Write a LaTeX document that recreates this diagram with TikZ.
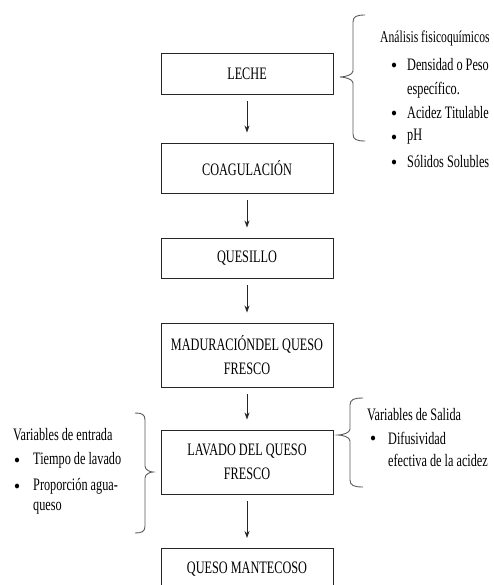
\documentclass[tikz,border=0pt]{standalone}
\usepackage{fontspec}
\setmainfont{Liberation Serif}[FakeStretch=0.70]
\usetikzlibrary{arrows.meta,shapes.geometric}
% #1 end x, #2 vertical x, #3 tip x, #4 top y, #5 tip y, #6 bottom y
\newcommand\drawbrace[6]{%
  \draw[brc] (#1,#4) .. controls ({#2+0.3*(#1-#2)},#4) and (#2,{#4+1.5}) .. (#2,{#4+7})
    -- (#2,{#5-6}) .. controls (#2,{#5-2}) and ({#3+0.35*(#2-#3)},#5) .. (#3,#5)
    .. controls ({#3+0.35*(#2-#3)},#5) and (#2,{#5+2}) .. (#2,{#5+6})
    -- (#2,{#6-7}) .. controls (#2,{#6-1.5}) and ({#2+0.3*(#1-#2)},#6) .. (#1,#6);}
\begin{document}
\begin{tikzpicture}[x=1pt,y=-1pt,
  stepbox/.style={draw=black!85,line width=0.9pt,minimum width=172pt,align=center,inner sep=0pt,
    font=\fontsize{17.5}{24}\selectfont},
  flow/.style={draw=black!85,line width=0.8pt,-{Stealth[length=7pt,width=5pt]},shorten <=7pt,shorten >=10pt},
  sidetext/.style={anchor=west,inner sep=0pt,font=\fontsize{17.5}{24}\selectfont},
  bul/.style={ellipse,fill=black,inner sep=0pt,minimum width=4.2pt,minimum height=4.8pt},
  brc/.style={draw=black!65,line width=0.9pt}]
\useasboundingbox (0,0) rectangle (493,585);

% process boxes
\node[stepbox,minimum height=41pt] (leche) at (247,73.5) {LECHE};
\node[stepbox,minimum height=50pt] (coag) at (247,168) {COAGULACIÓN};
\node[stepbox,minimum height=40pt] (ques) at (247,258) {QUESILLO};
\node[stepbox,minimum height=64pt] (mad) at (247,355) {MADURACIÓNDEL QUESO\\FRESCO};
\node[stepbox,minimum height=64pt] (lav) at (247,462) {LAVADO DEL QUESO\\FRESCO};
\node[stepbox,anchor=north,text height=25pt,text depth=39pt] (qm) at (247,548) {QUESO MANTECOSO};

% arrows
\draw[flow] (leche) -- (coag);
\draw[flow] (coag) -- (ques);
\draw[flow] (ques) -- (mad);
\draw[flow] (mad) -- (lav);
\draw[flow] (lav) -- (qm);

% braces
\drawbrace{365}{353}{340}{15}{77}{141}
\drawbrace{363}{350}{338}{398}{435}{487}
\drawbrace{135}{145}{153}{413}{472}{533}

% top-right text
\node[sidetext,font=\fontsize{16.6}{24}\selectfont] (t1) at (380,38) {Análisis fisicoquímicos};
\node[bul] (t1b1) at (394,65) {};
\node[sidetext] (t1a) at (407,65) {Densidad o Peso};
\node[sidetext] (t1a2) at (407,90) {específico.};
\node[bul] (t1b2) at (394,113) {};
\node[sidetext] (t1c) at (407,113) {Acidez Titulable};
\node[bul] (t1b3) at (394,137) {};
\node[sidetext] (t1d) at (407,137) {pH};
\node[bul] (t1b4) at (394,162) {};
\node[sidetext] (t1e) at (407,162) {Sólidos Solubles};

% bottom-right text
\node[sidetext] (t2) at (367,415) {Variables de Salida};
\node[bul] (t2b1) at (373,438) {};
\node[sidetext] (t2a) at (388,438) {Difusividad};
\node[sidetext] (t2a2) at (388,460) {efectiva de la acidez};

% left text
\node[sidetext] (t3) at (13,435) {Variables de entrada};
\node[bul] (t3b1) at (17,460) {};
\node[sidetext] (t3a) at (33,460) {Tiempo de lavado};
\node[bul] (t3b2) at (17,486) {};
\node[sidetext] (t3b) at (33,486) {Proporción agua-};
\node[sidetext] (t3b3) at (33,508) {queso};
\end{tikzpicture}
\end{document}
